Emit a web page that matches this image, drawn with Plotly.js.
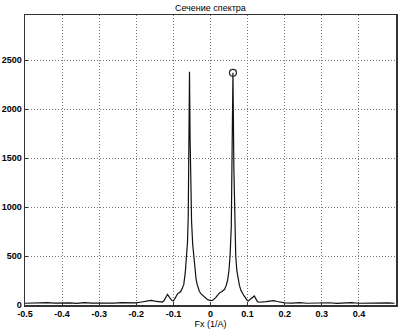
<!DOCTYPE html>
<html>
<head>
<meta charset="utf-8">
<script src="https://cdn.plot.ly/plotly-3.0.1.min.js"></script>
<style>html,body{margin:0;padding:0;background:#fff;}#chart{width:400px;height:331px;}</style>
</head>
<body>
<div id="chart"></div>
<script>
const freq = [-0.5,-0.48,-0.46,-0.44,-0.42,-0.40,-0.38,-0.36,-0.34,-0.32,-0.30,-0.28,-0.26,-0.24,-0.22,-0.20,
  -0.19,-0.18,-0.17,-0.16,-0.15,-0.14,-0.13,-0.125,-0.12,-0.116,-0.112,-0.108,-0.104,-0.1,-0.096,-0.092,-0.088,-0.084,-0.08,-0.076,-0.072,-0.068,-0.065,-0.062,-0.06,-0.058,-0.0566,-0.055,-0.053,-0.051,-0.048,-0.045,-0.042,-0.039,-0.036,-0.033,-0.03,-0.026,-0.022,-0.018,-0.014,-0.01,-0.006,-0.002,
  0.002,0.006,0.01,0.014,0.018,0.022,0.026,0.03,0.034,0.038,0.042,0.046,0.05,0.053,0.056,0.058,0.0605,0.063,0.065,0.068,0.071,0.074,0.078,0.082,0.086,0.09,0.094,0.098,0.102,0.106,0.11,0.114,0.118,0.122,0.126,0.13,0.14,0.15,0.16,0.17,0.18,0.19,0.20,
  0.22,0.24,0.26,0.28,0.30,0.32,0.34,0.36,0.38,0.40,0.42,0.44,0.46,0.48,0.496];
const amplitude = [18,22,20,25,19,23,21,17,24,20,18,22,19,24,21,22,
  28,35,42,48,40,32,30,45,80,109,85,60,45,41,70,100,118,125,140,170,210,330,460,640,900,1500,2380,1700,1200,850,620,470,360,270,210,170,140,115,100,90,75,62,52,46,
  44,48,60,75,95,118,128,135,145,160,195,250,360,520,800,1300,2370,1400,800,500,350,270,200,150,119,95,75,50,40,52,68,82,92,65,38,28,28,34,40,44,36,28,22,
  20,24,18,22,19,23,17,21,24,18,20,22,19,21,18];
const markX = [0.0605];
const markY = [2370];
const xTicks = [-0.5,-0.4,-0.3,-0.2,-0.1,0,0.1,0.2,0.3,0.4];
const xTickText = ['-0.5','-0.4','-0.3','-0.2','-0.1','0','0.1','0.2','0.3','0.4'];
const yTicks = [0,500,1000,1500,2000,2500];

const fnt = {family:'Liberation Sans, Arial, sans-serif', size:9, color:'#000', weight:'bold'};
Plotly.newPlot('chart', [
  {x:freq, y:amplitude, type:'scatter', mode:'lines', line:{color:'#111', width:1.2}, hoverinfo:'none'},
  {x:markX, y:markY, type:'scatter', mode:'markers', marker:{symbol:'circle-open', size:7, color:'#222', line:{width:1.2}}}
], {
  width:400, height:331, showlegend:false,
  paper_bgcolor:'#fff', plot_bgcolor:'#fff',
  margin:{l:25, r:4, t:15, b:26},
  title:{text:'Сечение спектра', font:{family:'Liberation Sans, Arial, sans-serif', size:9, color:'#000'}, x:0.526, xanchor:'center', y:0.985, yanchor:'top'},
  xaxis:{range:[-0.5,0.5], tickvals:xTicks, ticktext:xTickText, showgrid:true, gridcolor:'#777', griddash:'1px,2px', gridwidth:1,
    zeroline:false, showline:true, linecolor:'#333', linewidth:1.5, mirror:true, ticks:'inside', ticklen:3, tickcolor:'#333',
    tickfont:fnt, title:{text:'Fx (1/A)', font:{family:'Liberation Sans, Arial, sans-serif', size:9, color:'#000'}, standoff:2}},
  yaxis:{range:[0,2960], tickvals:yTicks, showgrid:true, gridcolor:'#777', griddash:'1px,2px', gridwidth:1,
    zeroline:false, showline:true, linecolor:'#333', linewidth:1.5, mirror:true, ticks:'inside', ticklen:3, tickcolor:'#333',
    tickfont:fnt}
}, {staticPlot:true});
</script>
</body>
</html>
